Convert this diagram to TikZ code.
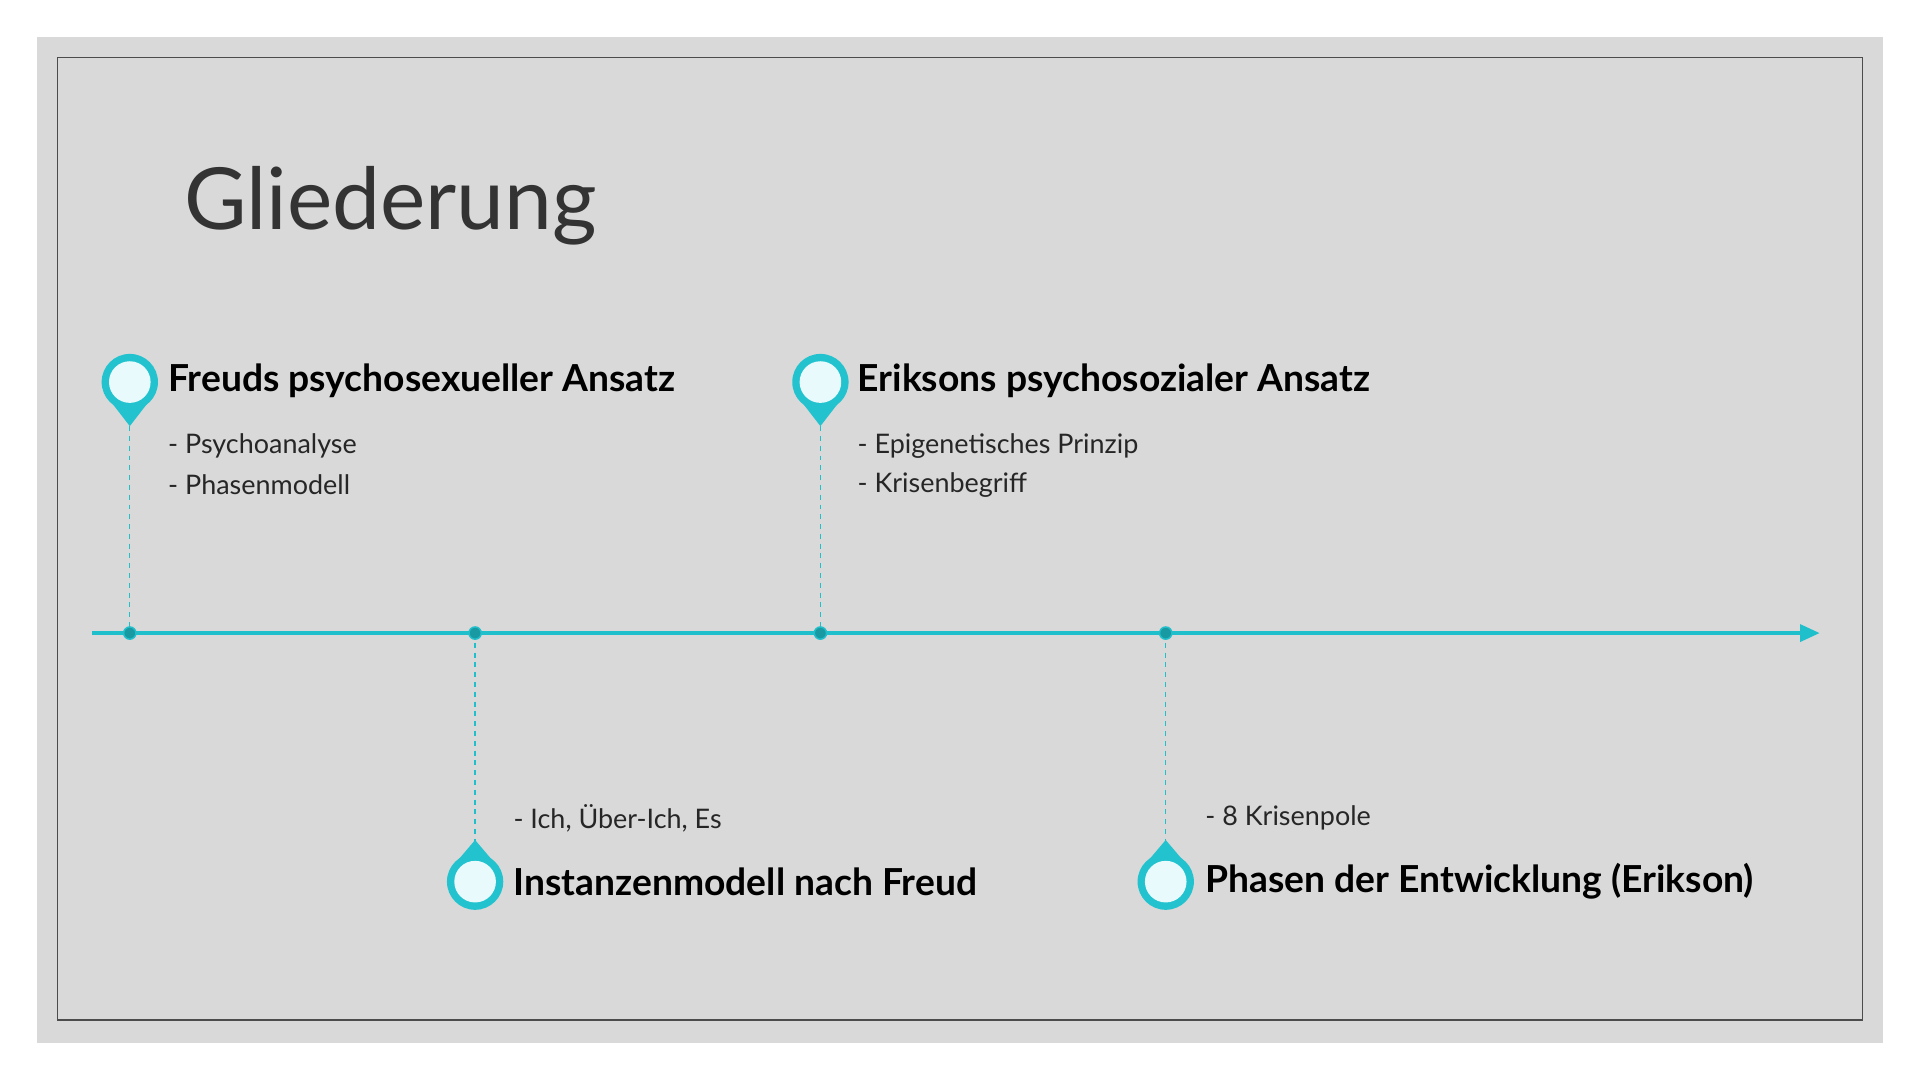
\documentclass[tikz,border=0pt]{standalone}
\usepackage{fontspec}
\setmainfont{Lato}
\usetikzlibrary{arrows.meta}
\definecolor{slidegray}{HTML}{D9D9D9}
\definecolor{linecyan}{HTML}{1FBFCB}
\definecolor{pincyan}{HTML}{22C3CF}
\definecolor{pinface}{HTML}{E8FAFC}
\tikzset{
    headline/.style={anchor=west, font=\fontsize{15.2}{17}\selectfont\bfseries, inner sep=0pt},
    bullet/.style={anchor=west, font=\fontsize{11}{13}\selectfont, inner sep=0pt, text=black!85},
    guide/.style={linecyan, dashed, line width=0.5pt, dash pattern=on 2pt off 2pt},
    axisdot/.style={fill=linecyan!80!black, draw=linecyan, line width=0.6pt}
}
\begin{document}
\begin{tikzpicture}[x=0.5pt,y=-0.5pt]
    \useasboundingbox (0,0) rectangle (1568,880);
    \fill[white] (0,0) rectangle (1568,880);
    \fill[slidegray] (30,30) rectangle (1538,852);
    \draw[black!70, line width=0.5pt] (47,47) rectangle (1521,833);
    % title
    \node[anchor=west, font=\fontsize{35}{38}\selectfont, text=black!80, inner sep=0pt] (title) at (150,168) {Gliederung};
    % timeline
    \coordinate (start) at (75,517);
    \coordinate (end) at (1486,517);
    \draw[linecyan, line width=1.3pt, -{Triangle[length=8pt,width=7pt]}] (start) -- (end);
    % top pins
    \foreach \x/\name in {106/freud,670/erikson}{
        \coordinate (\name axis) at (\x,517);
        \draw[guide] (\x,348) -- (\name axis);
        \fill[pincyan] (\x-17,326) -- (\x,348) -- (\x+17,326) -- cycle;
        \fill[pincyan] (\x,312) circle (23);
        \fill[pinface] (\x,312) circle (17);
        \fill[axisdot] (\name axis) circle (5);
    }
    % bottom pins
    \foreach \x/\name in {388/instanz,952/phasen}{
        \coordinate (\name axis) at (\x,517);
        \draw[guide] (\name axis) -- (\x,688);
        \fill[pincyan] (\x-17,706) -- (\x,686) -- (\x+17,706) -- cycle;
        \fill[pincyan] (\x,720) circle (23);
        \fill[pinface] (\x,720) circle (17);
        \fill[axisdot] (\name axis) circle (5);
    }
    % labels
    \node[headline] (freud) at (137,311) {Freuds psychosexueller Ansatz};
    \node[bullet] (psa) at (137,364) {- Psychoanalyse};
    \node[bullet] (pm) at (137,396) {- Phasenmodell};
    \node[headline] (erikson) at (700,311) {Eriksons psychosozialer Ansatz};
    \node[bullet] (epi) at (700,364) {- Epigenetisches Prinzip};
    \node[bullet] (kb) at (700,396) {- Krisenbegriff};
    \node[bullet] (ich) at (419,668) {- Ich, Über-Ich, Es};
    \node[headline] (instanz) at (419,720) {Instanzenmodell nach Freud};
    \node[bullet] (kp) at (984,668) {- 8 Krisenpole};
    \node[headline] (phasen) at (984,720) {Phasen der Entwicklung (Erikson)};
\end{tikzpicture}
\end{document}
